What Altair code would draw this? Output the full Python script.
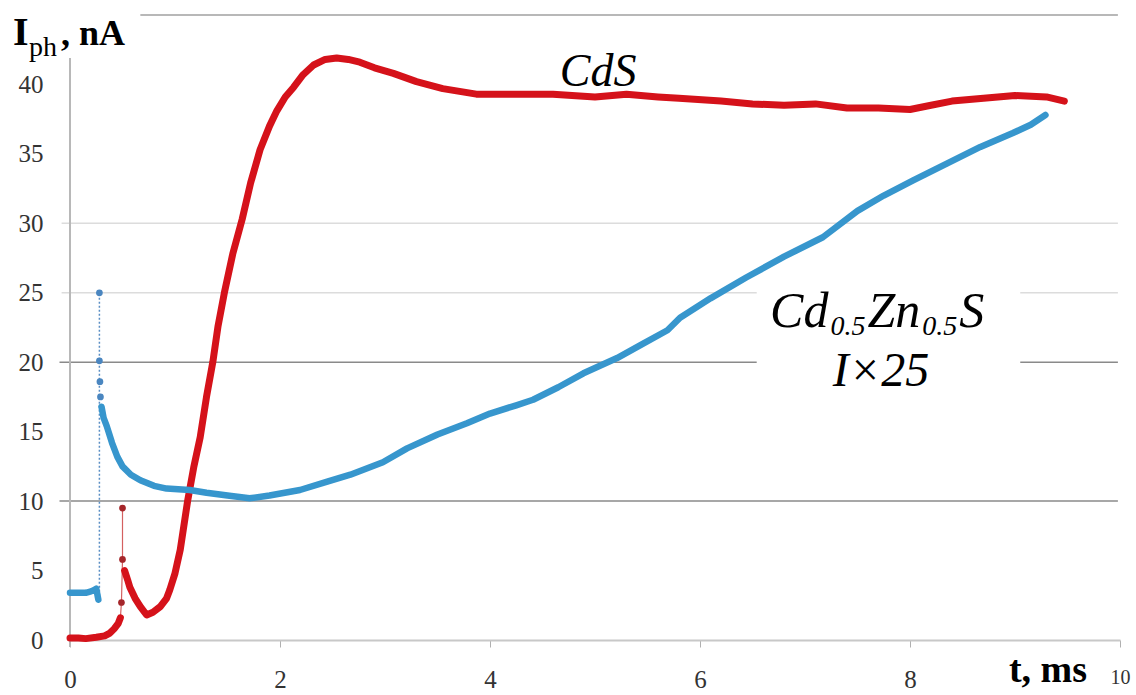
import altair as alt
import pandas as pd

# ---------------- data ----------------
# CdS (red) trace: part before the spike, spike points, part after the spike
cds_a_t = [0.00, 0.08, 0.15, 0.25, 0.33, 0.38, 0.42, 0.46, 0.48]
cds_a_i = [0.15, 0.15, 0.10, 0.20, 0.30, 0.50, 0.80, 1.20, 1.60]
cds_spike_t = [0.48, 0.49, 0.50, 0.50]
cds_spike_i = [1.6, 2.7, 5.8, 9.5]
cds_dot_t = [0.49, 0.50, 0.50]
cds_dot_i = [2.7, 5.8, 9.5]
cds_b_t = [0.52, 0.55, 0.57, 0.62, 0.67, 0.73, 0.79, 0.86, 0.92, 0.95, 1.00, 1.05,
           1.12, 1.18, 1.24, 1.30, 1.36, 1.41, 1.47, 1.55, 1.64, 1.72, 1.81, 1.90,
           1.97, 2.05, 2.13, 2.22, 2.32, 2.43, 2.54, 2.65, 2.76, 2.90, 3.08, 3.30,
           3.55, 3.87, 4.20, 4.60, 5.00, 5.30, 5.60, 5.80, 6.20, 6.50, 6.80, 7.10,
           7.40, 7.70, 8.00, 8.20, 8.40, 8.70, 9.00, 9.30, 9.47]
cds_b_i = [5.0, 4.3, 3.8, 3.0, 2.4, 1.8, 2.0, 2.4, 3.0, 3.6, 4.8, 6.5,
           10.0, 12.5, 14.6, 17.5, 20.0, 22.6, 25.0, 27.8, 30.3, 32.9, 35.3, 37.0,
           38.1, 39.1, 39.8, 40.7, 41.4, 41.8, 41.9, 41.8, 41.6, 41.2, 40.8, 40.2,
           39.7, 39.3, 39.3, 39.3, 39.1, 39.3, 39.1, 39.0, 38.8, 38.6, 38.5, 38.6,
           38.3, 38.3, 38.2, 38.5, 38.8, 39.0, 39.2, 39.1, 38.8]

# Cd0.5Zn0.5S (blue) trace, I x 25
czs_a_t = [0.00, 0.10, 0.15, 0.20, 0.23, 0.25, 0.26, 0.27]
czs_a_i = [3.4, 3.4, 3.4, 3.5, 3.6, 3.7, 3.3, 2.9]
czs_spike_t = [0.28, 0.28]
czs_spike_i = [2.9, 25.0]
czs_dot_t = [0.28, 0.28, 0.285, 0.29]
czs_dot_i = [25.0, 20.1, 18.6, 17.5]
czs_b_t = [0.30, 0.32, 0.35, 0.40, 0.45, 0.50, 0.58, 0.67, 0.80, 0.92, 1.14, 1.30,
           1.50, 1.71, 1.90, 2.19, 2.45, 2.67, 2.98, 3.21, 3.50, 3.78, 4.00, 4.25,
           4.41, 4.65, 4.89, 5.21, 5.45, 5.69, 5.81, 6.10, 6.44, 6.80, 7.17, 7.50,
           7.75, 8.03, 8.35, 8.67, 8.98, 9.15, 9.29]
czs_b_i = [16.8, 16.0, 15.4, 14.2, 13.2, 12.5, 11.9, 11.5, 11.1, 10.9, 10.8, 10.6,
           10.4, 10.2, 10.4, 10.8, 11.4, 11.9, 12.8, 13.8, 14.8, 15.6, 16.3, 16.9,
           17.3, 18.2, 19.2, 20.3, 21.3, 22.3, 23.2, 24.6, 26.1, 27.6, 29.0, 30.9,
           32.0, 33.1, 34.3, 35.5, 36.5, 37.1, 37.8]

x_ticks = [0, 2, 4, 6, 8, 10]
y_ticks = [0, 5, 10, 15, 20, 25, 30, 35, 40]
grid_dark = [10, 20]
grid_light = [25, 30]
grid_top = [45]

RED = "#d5121a"
BLUE = "#3796cd"
SERIF = "Times New Roman, Liberation Serif, serif"

# ---------------- scales / axes ----------------
x_axis = alt.Axis(values=x_ticks, grid=False, domain=True, domainColor="#c8c8c8",
                  domainWidth=2, ticks=True, tickColor="#b0b0b0", tickSize=7,
                  labelFont=SERIF, labelColor="#333333", labelPadding=20,
                  labelFontSize={"condition": {"test": "datum.value === 10", "value": 20},
                                 "value": 25},
                  labelFlush=False, labelOverlap=False, title=None)
y_axis = alt.Axis(values=y_ticks, grid=False, domain=False, ticks=False,
                  labelFont=SERIF, labelFontSize=25, labelColor="#333333",
                  labelPadding=27, labelOverlap=False, title=None)


def X(field="t"):
    return alt.X(field, type="quantitative",
                 scale=alt.Scale(domain=[0, 10], nice=False, zero=False), axis=x_axis)


def Y(field="i"):
    return alt.Y(field, type="quantitative",
                 scale=alt.Scale(domain=[0, 45], nice=False, zero=False), axis=y_axis)


def df(t, i):
    return pd.DataFrame({"t": t, "i": i, "o": range(len(t))})


def hrules(vals, x0, x1, color, width):
    d = pd.DataFrame({"i": vals, "t": [x0] * len(vals), "t2": [x1] * len(vals)})
    return alt.Chart(d).mark_rule(color=color, strokeWidth=width).encode(
        x=X(), x2=alt.X2("t2"), y=Y())


layers = []
layers.append(hrules(grid_light, -0.08, 9.98, "#dcdcdc", 1.5))
layers.append(hrules(grid_dark, -0.1, 9.98, "#8a8a8a", 1.5))
layers.append(hrules(grid_top, 0.67, 9.98, "#a0a0a0", 1.5))
# y axis line
layers.append(alt.Chart(pd.DataFrame({"t": [0.0], "i": [-0.5], "i2": [41.9]}))
              .mark_rule(color="#b8b8b8", strokeWidth=2)
              .encode(x=X(), y=Y(), y2=alt.Y2("i2")))
# white box behind the Cd0.5Zn0.5S label
layers.append(alt.Chart(pd.DataFrame({"t": [6.54], "t2": [9.05], "i": [17.6], "i2": [25.9]}))
              .mark_rect(color="white")
              .encode(x=X(), x2=alt.X2("t2"), y=Y(), y2=alt.Y2("i2")))

# red thin connector + dots
layers.append(alt.Chart(df(cds_spike_t, cds_spike_i)).mark_line(color="#d46060", strokeWidth=1.2)
              .encode(x=X(), y=Y(), order="o:Q"))
layers.append(alt.Chart(df(cds_dot_t, cds_dot_i)).mark_circle(color="#a5262a", size=45, opacity=1)
              .encode(x=X(), y=Y()))
# red thick
for tt, ii in [(cds_a_t, cds_a_i), (cds_b_t, cds_b_i)]:
    layers.append(alt.Chart(df(tt, ii)).mark_line(color=RED, strokeWidth=7, strokeCap="round",
                                                  strokeJoin="round")
                  .encode(x=X(), y=Y(), order="o:Q"))
# blue dotted connector + dots
layers.append(alt.Chart(df(czs_spike_t, czs_spike_i)).mark_line(color="#5b8fc4", strokeWidth=1.5,
                                                               strokeDash=[2, 2])
              .encode(x=X(), y=Y(), order="o:Q"))
layers.append(alt.Chart(df(czs_dot_t, czs_dot_i)).mark_circle(color="#4a86c0", size=45, opacity=1)
              .encode(x=X(), y=Y()))
for tt, ii in [(czs_a_t, czs_a_i), (czs_b_t, czs_b_i)]:
    layers.append(alt.Chart(df(tt, ii)).mark_line(color=BLUE, strokeWidth=6.5, strokeCap="round",
                                                  strokeJoin="round")
                  .encode(x=X(), y=Y(), order="o:Q"))


def txt(t, i, s, **props):
    d = pd.DataFrame({"t": [t], "i": [i], "s": [s]})
    base = dict(font=SERIF, color="black", baseline="alphabetic", align="left")
    base.update(props)
    return alt.Chart(d).mark_text(**base).encode(x=X(), y=Y(), text="s:N")


# y title  I_ph, nA
yt_t, yt_i = -0.543, 42.84
layers.append(txt(yt_t, yt_i, "I", fontSize=40, fontWeight="bold"))
layers.append(txt(yt_t, yt_i, "ph", fontSize=28, dx=16, dy=11))
layers.append(txt(yt_t, yt_i, ", nA", fontSize=36, fontWeight="bold", dx=48))
# x title
layers.append(txt(9.686, -3.02, "t, ms", fontSize=38, fontWeight="bold", align="right"))
# CdS
layers.append(txt(5.03, 39.9, "CdS", fontSize=46, fontStyle="italic", align="center"))
# Cd0.5Zn0.5S
lab_t, lab_i = 6.667, 22.55
big, small = 50, 28
pieces = [("Cd", big, 0), ("0.5", small, 8), ("Zn", big, 0), ("0.5", small, 8), ("S", big, 0)]
adv = {"C": 0.667, "d": 0.5, "Z": 0.556, "n": 0.5, "S": 0.5, "0": 0.5, ".": 0.25, "5": 0.5}
dx = 0.0
for s, fs, dyy in pieces:
    layers.append(txt(lab_t, lab_i, s, fontSize=fs, fontStyle="italic", dx=dx, dy=dyy))
    dx += sum(adv[c] for c in s) * fs + 2
layers.append(txt(7.724, 18.3, "I×25", fontSize=48, fontStyle="italic", align="center"))

chart = alt.layer(*layers).properties(
    width=1050, height=625,
    autosize=alt.AutoSizeParams(type="none"),
    padding={"left": 70, "top": 15, "right": 16, "bottom": 55},
    background="white",
).configure_view(stroke=None)

chart.save("out.html", embed_options={"renderer": "svg", "actions": False})
